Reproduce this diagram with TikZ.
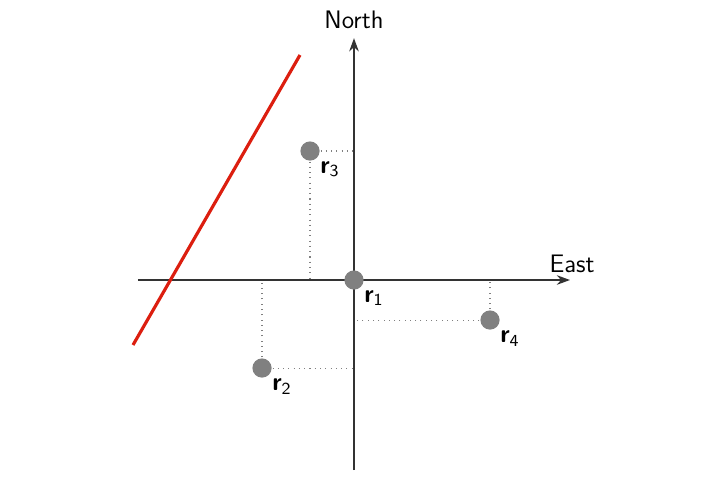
\documentclass[tikz,border=0pt]{standalone}
\usepackage{tikz}
\usetikzlibrary{arrows.meta,positioning,calc}
\renewcommand{\familydefault}{\sfdefault}
\definecolor{linered}{RGB}{220,30,15}

\begin{document}
\begin{tikzpicture}[
    axis/.style={-{Stealth[length=2.2mm,width=1.6mm]}, line width=0.6pt, black!80},
    pt/.style={circle, fill=gray, inner sep=0pt, minimum size=0.32cm},
    proj/.style={dotted, gray, line width=0.5pt},
    lbl/.style={font=\sffamily\large, text=black},
    ray/.style={line width=1.5pt, linered}
]
\useasboundingbox (-5.9,-3.333) rectangle (6.1,4.667);
\coordinate (O) at (0,0);
\coordinate (xl) at (-3.6,0);
\coordinate (xr) at (3.6,0);
\coordinate (yb) at (0,-3.17);
\coordinate (yt) at (0,4.03);

% projections onto the axes
\coordinate (p2) at (-1.533,-1.467);
\coordinate (p3) at (-0.733,2.15);
\coordinate (p4) at (2.267,-0.667);
\draw[proj] (p3) -- (p3 -| O);
\draw[proj] (p3) -- (p3 |- O);
\draw[proj] (p2) -- (p2 -| O);
\draw[proj] (p2) -- (p2 |- O);
\draw[proj] (p4) -- (p4 -| O);
\draw[proj] (p4) -- (p4 |- O);

% axes
\draw[axis] (xl) -- (xr) node[lbl, above, xshift=1pt] (east) {East};
\draw[axis] (yb) -- (yt) node[lbl, above=1pt] (north) {North};

% line
\coordinate (la) at (-3.683,-1.083);
\coordinate (lb) at (-0.9,3.75);
\draw[ray] (la) -- (lb);

% points
\node[pt] (r1) at (O) {};
\node[pt] (r2) at (p2) {};
\node[pt] (r3) at (p3) {};
\node[pt] (r4) at (p4) {};
\foreach \i in {1,...,4}
    \node[lbl, below right=-2pt and -2pt of r\i] {\textbf{r}\textsubscript{\i}};
\end{tikzpicture}
\end{document}
